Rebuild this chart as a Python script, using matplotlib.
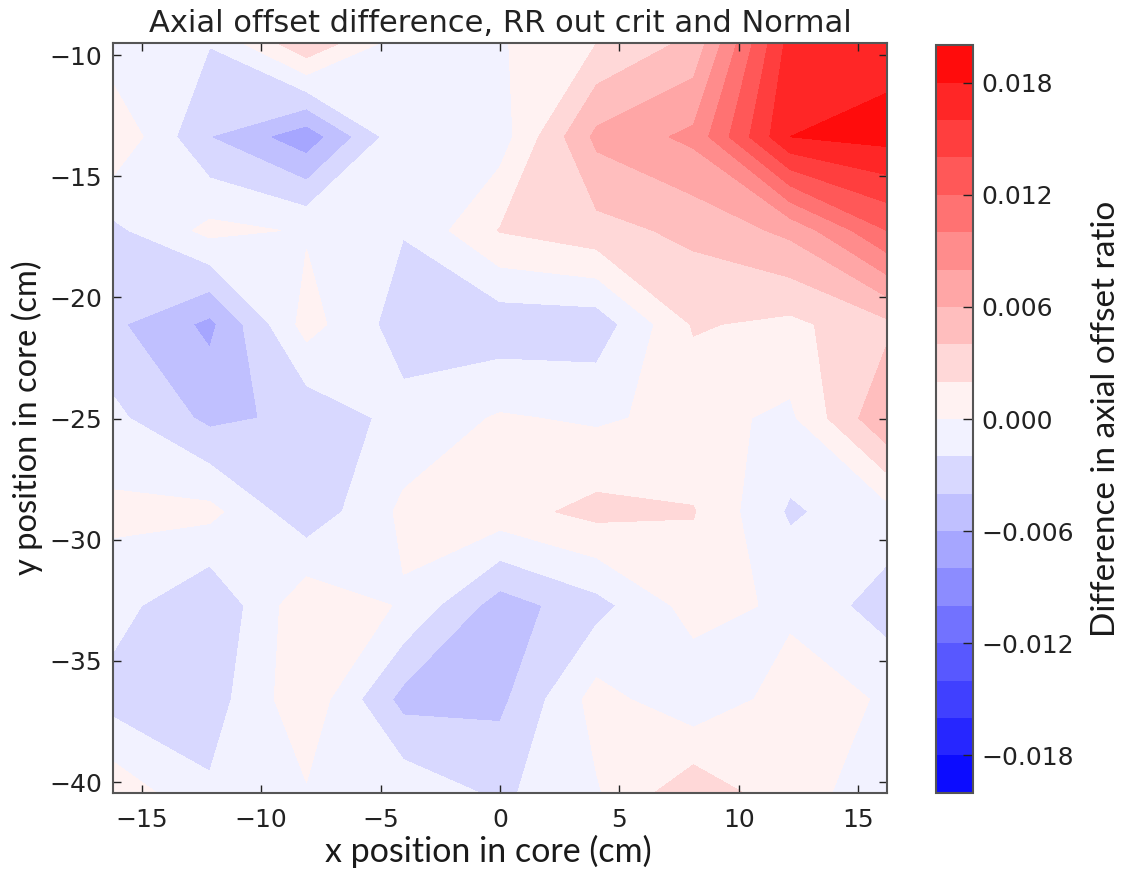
import numpy as np
import matplotlib
matplotlib.use("Agg")
import matplotlib.pyplot as plt
from matplotlib.ticker import FuncFormatter

# measurement grid (cm)
x_cm = np.linspace(-16.2, 16.2, 9)
y_cm = np.linspace(-9.5, -40.45, 9)

# axial offset ratio difference (RR out crit minus Normal), one list per grid row, top to bottom
row_0 = [-0.0014, -0.0019, 0.0037, -0.0012, -0.0002, 0.0020, 0.0045, 0.0168, 0.0172]
row_1 = [0.0018, -0.0040, -0.0073, -0.0004, -0.0010, 0.0065, 0.0085, 0.0180, 0.0187]
row_2 = [-0.0025, 0.00055, -0.0002, -0.0019, 0.0021, 0.0033, 0.0045, 0.0065, 0.0120]
row_3 = [-0.0036, -0.0065, 0.0008, -0.0030, -0.0033, -0.0032, 0.0022, 0.0015, 0.0035]
row_4 = [-0.0015, -0.0045, -0.0035, -0.0013, 0.0002, -0.0003, 0.0006, -0.0004, 0.0058]
row_5 = [0.00046, 0.00056, -0.0034, 0.0004, 0.0012, 0.0026, 0.0021, -0.0023, -0.0007]
row_6 = [-0.0012, -0.0039, 0.0015, -0.0002, -0.0050, -0.0027, 0.0008, -0.0004, -0.0030]
row_7 = [-0.0028, -0.0030, 0.0015, -0.0047, -0.0045, 0.0008, -0.0015, 0.0009, -0.0002]
row_8 = [0.0014, -0.0017, -0.0002, -0.0005, -0.0024, -0.0002, 0.0035, 0.0006, -0.0008]

levels = np.linspace(-0.02, 0.02, 21)
cbar_ticks = [-0.018, -0.012, -0.006, 0.0, 0.006, 0.012, 0.018]

title = "Axial offset difference, RR out crit and Normal"
xlabel = "x position in core (cm)"
ylabel = "y position in core (cm)"
cbar_label = "Difference in axial offset ratio"

Z = np.array([row_0, row_1, row_2, row_3, row_4, row_5, row_6, row_7, row_8])
X, Y = np.meshgrid(x_cm, y_cm)

fig = plt.figure(figsize=(11.28, 8.73), dpi=100)
ax = fig.add_axes([0.1002, 0.0916, 0.6861, 0.8591])
cax = fig.add_axes([0.8298, 0.092, 0.0328, 0.856])

cs = ax.contourf(X, Y, Z, levels=levels, cmap="bwr")
ax.set_xlim(x_cm.min(), x_cm.max())
ax.set_ylim(y_cm.min(), y_cm.max())
ax.set_xticks([-15, -10, -5, 0, 5, 10, 15])
ax.set_yticks([-10, -15, -20, -25, -30, -35, -40])

ax.tick_params(direction="in", length=6, width=1, top=True, right=True,
               labelsize=18, colors="#222222")
ax.tick_params(axis="x", pad=11)
ax.tick_params(axis="y", pad=8)
for sp in ax.spines.values():
    sp.set_color("#555555")
    sp.set_linewidth(1.5)

ax.set_title(title, fontsize=22, color="#222222", pad=8)
label_font = dict(family=["Lato", "DejaVu Sans"], color="#1a1a1a")
ax.set_xlabel(xlabel, fontsize=24.5, **label_font)
ax.xaxis.set_label_coords(0.485, -0.056)
ax.set_ylabel(ylabel, labelpad=4, fontsize=23.5, **label_font)

cb = fig.colorbar(cs, cax=cax, ticks=cbar_ticks)


def fmt(v, pos):
    if abs(v) < 1e-12:
        v = 0.0
    return f"{v:.3f}".replace("-", "\u2212")


cb.ax.yaxis.set_major_formatter(FuncFormatter(fmt))
cb.ax.tick_params(direction="in", length=7, width=1, labelsize=18,
                  colors="#222222", pad=6)
cb.outline.set_edgecolor("#555555")
cb.outline.set_linewidth(1.5)
cb.set_label(cbar_label, labelpad=12, fontsize=24, **label_font)

fig.savefig("out.png", dpi=100)
